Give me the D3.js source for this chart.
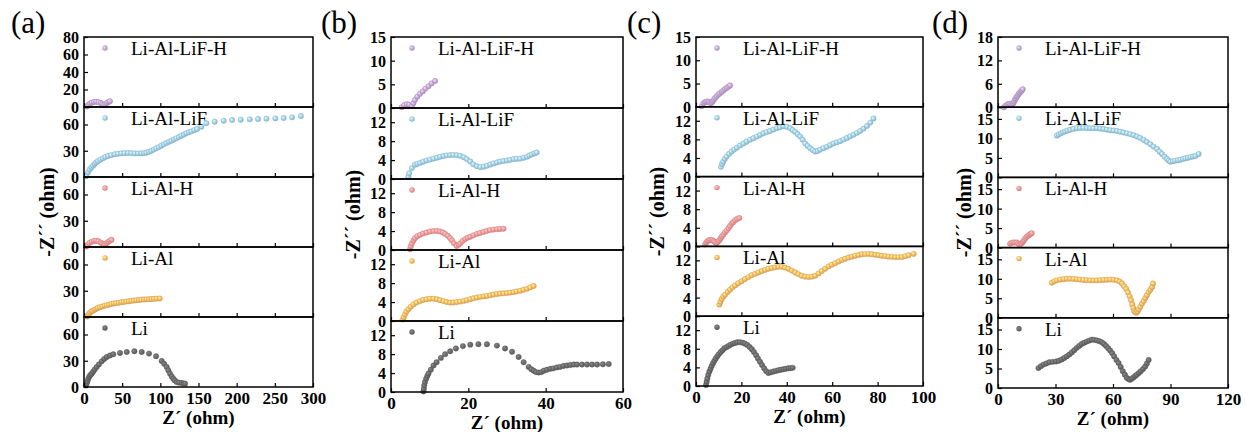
<!DOCTYPE html>
<html>
<head>
<meta charset="utf-8">
<script src="https://cdn.jsdelivr.net/npm/d3@7"></script>
<style>
  body { margin: 0; background: #fff; }
  svg { display: block; }
  svg text { font-family: "Liberation Serif", "Times New Roman", "DejaVu Serif", serif; }
</style>
</head>
<body>
<svg id="chart"></svg>
<script>
// series and panel settings
const names = ["Li-Al-LiF-H", "Li-Al-LiF", "Li-Al-H", "Li-Al", "Li"]
const colors = ["#c6a8d8", "#a4d2e8", "#f39a9a", "#f7bc68", "#6a6a6a"]
const letters = ["(a)", "(b)", "(c)", "(d)"]
const xDomains = [[0, 300], [0, 60], [0, 100], [0, 120]]
const xTicks = [[0, 50, 100, 150, 200, 250, 300], [0, 20, 40, 60], [0, 20, 40, 60, 80, 100], [0, 30, 60, 90, 120]]
const yMax = [80, 15, 15, 18]
const yTicksTop = [[0, 20, 40, 60, 80], [0, 5, 10, 15], [0, 5, 10, 15], [0, 6, 12, 18]]
const yTicksRest = [[0, 30, 60], [0, 4, 8, 12], [0, 4, 8, 12], [0, 5, 10, 15]]

// (a) Z' , -Z'' pairs
const a_LiAlLiFH = [[4,0.5],[6,2.5],[8,4],[10,5],[13,5.8],[16,6],[19,5.6],[22,4.5],[24,3],[26,2.2],[28,3],[30,4.5],[32,5.8],[34,6.5]]
const a_LiAlLiF = [[3,1],[5.2,5.3],[7.5,8.5],[9.6,11],[12,13],[14,14.9],[16,16.5],[18.3,18],[21.5,19.8],[24.9,21.3],[28,22.8],[31.5,24],[35.5,25],[40.2,26],[44.5,26.6],[48.9,27],[53,27.2],[57.7,27.4],[62,27.3],[66.4,27],[70.8,27],[75.1,27],[78.5,27.3],[81.7,27.8],[85,28.8],[88.2,30],[91.5,31.3],[94.8,32.8],[98,34.2],[101.3,35.8],[104.6,37.3],[107.9,38.9],[111.2,40.2],[114.5,41.5],[117.8,42.8],[121,44.2],[124.3,45.7],[127.6,47.2],[130.9,48.6],[134.1,50],[137.4,51.1],[140.7,52.2],[144.4,53.5],[148.1,54.9],[153.8,57.5],[160.3,61.4],[171.2,63.2],[183,64.3],[194,65.1],[205.3,65.5],[217.1,65.9],[228,66.3],[239,66.7],[250.7,67],[261.7,67.4],[272.6,68.2],[284,69.7]]
const a_LiAlH = [[3,0.5],[5,2.5],[7,4.5],[10,6],[13,7],[16,7.2],[19,6.5],[22,5],[24,3.8],[26,3],[28,3.3],[30,4.5],[32,6],[34,7.3],[36,8.3]]
const a_LiAl = [[4.3,0.5],[5.2,1.5],[6.5,3.5],[8,5.2],[9.8,6.5],[11.8,7.2],[14,8.3],[16,9.3],[18.3,10.3],[21,11.2],[24,12],[27.1,12.9],[30,13.5],[33,14.2],[35.8,14.9],[39,15.4],[42,15.9],[45.5,16.3],[48.9,16.8],[52,17.2],[55.5,17.6],[58.8,18],[62,18.6],[65.5,18.8],[68.8,19.1],[72,19.4],[75.1,19.8],[78.5,20],[81.8,20.2],[85,20.4],[88.2,20.6],[91.5,20.8],[95,21],[99.2,21.2]]
const a_Li = [[2.6,1.9],[3.5,4],[4.5,6.5],[5.7,9.5],[7,12],[8.5,13.8],[10.1,15.2],[12,17.5],[14,20],[16.6,22.8],[19.5,25.8],[23.2,29.3],[26.5,32],[29.8,34.3],[34,36],[38.4,37.4],[47.2,38.9],[56,40],[66,40.9],[75.6,40],[85.2,38.2],[94.4,35.1],[101.8,29.7],[105,26.5],[108.4,22.8],[110.5,19],[112.7,15.2],[115,12],[117,9.5],[119,7.5],[121.5,5.6],[124.5,5],[128,4.5],[130.5,4.2],[132.4,3.8]]

// (b)
const b_LiAlLiFH = [[2.8,0.15],[3.4,0.6],[4.1,0.8],[4.7,0.7],[5.4,0.4],[5.8,1.0],[6.2,1.7],[6.8,2.4],[7.5,3.0],[8.2,3.5],[8.9,4.1],[9.7,4.6],[10.5,5.2],[11.4,5.7]]
const b_LiAlLiF = [[4.5,0.5],[4.7,1.2],[5.4,2.3],[6.2,3.0],[6.8,3.2],[7.5,3.4],[8.3,3.65],[9.2,3.9],[10.1,4.1],[11,4.3],[11.9,4.5],[12.7,4.7],[13.6,4.85],[14.4,5.0],[15.3,5.05],[16.1,5.1],[17,5.05],[17.9,4.9],[18.8,4.6],[19.6,4.2],[20.5,3.7],[21.3,3.1],[22.2,2.7],[23.1,2.5],[24,2.6],[24.8,2.8],[25.7,3.05],[26.5,3.3],[27.4,3.5],[28.2,3.7],[29.1,3.8],[30,3.9],[30.8,4.05],[31.7,4.2],[32.5,4.25],[33.4,4.3],[34.3,4.5],[35.2,4.7],[35.8,4.95],[36.4,5.2],[37.1,5.4],[37.7,5.6]]
const b_LiAlH = [[4.9,0.15],[5.1,0.8],[5.4,1.4],[5.8,2.0],[6.2,2.5],[6.8,2.9],[7.5,3.2],[8.3,3.5],[9.2,3.7],[10.1,3.9],[11,4.0],[11.9,4.0],[12.7,3.9],[13.4,3.7],[14,3.4],[14.7,3.0],[15.3,2.5],[15.8,2.0],[16.3,1.4],[17,0.85],[17.5,1.1],[17.9,1.4],[18.5,1.9],[19.2,2.3],[19.8,2.6],[20.5,2.8],[21.3,3.1],[22.2,3.4],[23,3.6],[23.9,3.8],[24.7,4.0],[25.6,4.2],[26.5,4.3],[27.4,4.4],[28.2,4.45],[29.1,4.5]]
const b_LiAl = [[3,0.3],[3.3,0.8],[3.6,1.4],[4,2],[4.5,2.5],[5.1,3],[5.8,3.5],[6.6,3.9],[7.5,4.2],[8.3,4.45],[9.2,4.6],[10.1,4.7],[11,4.7],[11.9,4.6],[12.7,4.4],[13.6,4.2],[14.4,4.0],[15.3,3.9],[16.1,3.9],[17,4.0],[17.9,4.1],[18.8,4.25],[19.6,4.4],[20.5,4.6],[21.3,4.8],[22.2,4.95],[23.1,5.1],[24,5.2],[24.8,5.3],[25.7,5.45],[26.5,5.6],[27.4,5.7],[28.2,5.8],[29.1,5.85],[30,5.9],[30.8,6.0],[31.7,6.1],[32.5,6.25],[33.4,6.4],[34.3,6.6],[35.2,6.8],[36,7.1],[36.9,7.4]]
const b_Li = [[8.4,0.1],[8.5,0.7],[8.6,1.4],[8.8,2.1],[9.1,2.8],[9.4,3.4],[9.7,3.9],[10.3,4.7],[11,5.6],[11.8,6.3],[12.9,7.2],[14,8.0],[15.3,8.6],[16.8,9.2],[18.6,9.7],[20.5,10.0],[22.6,10.1],[24.8,10.1],[27.4,9.8],[29.5,9.2],[31.3,8.5],[33,7.4],[34.3,6.3],[35.6,5.3],[36.3,4.8],[36.9,4.5],[37.5,4.2],[38.2,4.1],[38.9,4.2],[39.5,4.5],[40.3,4.7],[41.2,4.9],[42,5.0],[42.9,5.2],[43.7,5.3],[44.6,5.5],[45.5,5.6],[46.4,5.7],[47.3,5.8],[48.1,5.8],[49.4,5.8],[50.7,5.8],[52,5.8],[53.3,5.8],[54.8,5.85],[56.3,5.9]]

// (c)
const c_LiAlLiFH = [[2.5,0.1],[3.2,0.7],[3.8,0.95],[4.4,1.1],[5,1.15],[5.6,1.1],[6.1,0.9],[6.5,0.7],[7,0.9],[7.4,1.2],[7.9,1.55],[8.4,1.9],[9.1,2.25],[9.8,2.6],[10.5,2.9],[11.3,3.2],[12,3.5],[12.8,3.8],[13.5,4.05],[14.3,4.3],[15,4.6]]
const c_LiAlLiF = [[11,2.1],[11.5,2.7],[12,3.2],[12.7,3.8],[13.5,4.3],[14.6,4.9],[15.7,5.4],[16.8,5.8],[18,6.2],[19.4,6.7],[20.9,7.1],[22.3,7.5],[23.8,7.9],[25.3,8.25],[26.8,8.6],[28.2,8.95],[29.7,9.3],[31.1,9.55],[32.6,9.8],[34.1,10.1],[35.6,10.4],[37,10.6],[38.5,10.8],[40,10.7],[41.5,10.4],[42.6,10],[43.7,9.6],[44.8,9.1],[45.9,8.6],[47,7.9],[48.1,7.1],[49.2,6.6],[50.3,6.1],[51.4,5.7],[52.5,5.4],[53.6,5.5],[54.7,5.8],[56.1,6.1],[57.6,6.4],[59.1,6.8],[60.6,7.1],[62,7.35],[63.5,7.6],[65,7.95],[66.5,8.3],[67.9,8.65],[69.4,9.0],[70.9,9.4],[72.3,9.8],[73.8,10.3],[75.3,10.9],[76.8,11.6],[78.2,12.5]]
const c_LiAlH = [[4,0.4],[4.5,0.8],[5,1.1],[5.6,1.3],[6.2,1.4],[6.8,1.4],[7.4,1.3],[7.9,1.1],[8.4,0.9],[9.1,0.7],[9.7,1.0],[10.3,1.3],[10.8,1.7],[11.3,2.1],[12,2.5],[12.8,3.0],[13.5,3.4],[14.3,3.9],[15,4.4],[15.7,4.9],[16.4,5.2],[17.2,5.6],[18.1,5.9],[19.1,6.1]]
const c_LiAl = [[10.3,2.5],[10.8,3.1],[11.3,3.7],[12,4.2],[12.8,4.6],[13.9,5.2],[15,5.7],[16.1,6.2],[17.2,6.6],[18.6,7.1],[20.1,7.5],[21.6,8],[23.1,8.4],[24.5,8.8],[26,9.1],[27.5,9.4],[29,9.7],[30.4,9.95],[31.9,10.2],[33.4,10.35],[34.8,10.5],[36.3,10.6],[37.8,10.6],[39.2,10.45],[40.7,10.2],[42.2,9.8],[43.7,9.4],[45.1,9.05],[46.6,8.7],[48.1,8.5],[49.6,8.4],[51,8.5],[52.5,8.7],[54,9.2],[55.4,9.7],[56.9,10.2],[58.4,10.7],[59.8,11.05],[61.3,11.4],[62.8,11.75],[64.3,12.1],[65.7,12.35],[67.2,12.6],[68.7,12.8],[70.1,13],[71.6,13.15],[73.1,13.3],[74.5,13.35],[76,13.4],[77.5,13.3],[79,13.2],[80.4,13.1],[81.9,13],[83.4,12.9],[84.8,12.8],[86.3,12.75],[87.8,12.7],[89.2,12.7],[90.7,12.7],[92.2,12.9],[93.7,13.1],[95.9,13.4]]
const c_Li = [[4.4,0.2],[4.7,0.9],[5,1.6],[5.4,2.4],[5.9,3.1],[6.4,3.7],[6.9,4.3],[7.5,4.9],[8.1,5.4],[8.7,5.9],[9.4,6.4],[10.1,6.85],[10.9,7.3],[11.7,7.7],[12.5,8.1],[13.4,8.35],[14.3,8.6],[15.2,8.85],[16.2,9.1],[17.2,9.25],[18.2,9.4],[19.4,9.4],[20.6,9.3],[21.6,9.1],[22.6,8.8],[23.6,8.4],[24.6,7.9],[25.5,7.3],[26.5,6.6],[27.3,5.9],[28.2,5.2],[29.1,4.5],[30,3.8],[30.9,3.2],[31.9,2.8],[33,2.95],[34.1,3.1],[35.2,3.25],[36.3,3.4],[37.4,3.5],[38.5,3.6],[39.6,3.7],[40.7,3.8],[41.7,3.85],[42.6,3.9]]

// (d)
const d_LiAlLiFH = [[3.1,0],[3.8,0.3],[4.5,0.6],[5.2,0.8],[5.9,0.9],[6.5,0.8],[7.1,0.6],[7.5,0.7],[8,1.0],[8.4,1.4],[8.9,1.9],[9.3,2.3],[9.8,2.7],[10.3,3.0],[10.8,3.4],[11.3,3.7],[11.9,4.0],[12.4,4.3],[12.9,4.6]]
const d_LiAlLiF = [[30.7,10.7],[31.7,11],[32.8,11.3],[33.9,11.55],[35,11.8],[36.3,12],[37.6,12.2],[39.3,12.4],[41.1,12.6],[42.8,12.65],[44.6,12.7],[46.3,12.65],[48.1,12.6],[49.8,12.6],[51.6,12.6],[53.3,12.5],[55.1,12.4],[56.8,12.25],[58.6,12.1],[60.3,12],[62.1,11.9],[63.8,11.7],[65.5,11.5],[67.3,11.3],[69,11.1],[70.8,10.8],[72.5,10.5],[74.2,10.1],[76,9.6],[77.7,9.1],[79.5,8.5],[81.2,7.9],[83,7.3],[84.3,6.6],[85.6,6],[86.9,5.3],[88.2,4.7],[89.1,4.3],[89.9,4],[91.2,4.15],[92.5,4.3],[93.9,4.4],[95.2,4.5],[96.5,4.7],[97.8,4.9],[99.1,5.05],[100.4,5.2],[101.7,5.35],[103,5.5],[104.7,6]]
const d_LiAlH = [[6.3,1.0],[7.1,1.2],[8,1.3],[8.9,1.3],[9.8,1.3],[10.5,1.0],[11.1,0.8],[11.8,0.95],[12.4,1.1],[13,1.5],[13.6,1.9],[14.3,2.4],[15,2.8],[15.7,3.05],[16.4,3.3],[17,3.5],[17.6,3.7]]
const d_LiAl = [[28.1,9],[29.4,9.35],[30.7,9.6],[32.5,9.8],[34.2,9.9],[35.9,10],[37.6,10],[39.4,9.95],[41.1,9.9],[42.8,9.8],[44.6,9.7],[46.3,9.65],[48.1,9.6],[49.8,9.6],[51.6,9.6],[53.3,9.65],[55.1,9.7],[56.8,9.75],[58.6,9.8],[60.3,9.75],[62.1,9.6],[63.4,9.3],[64.7,8.8],[65.8,8.1],[66.9,7.4],[67.8,6.5],[68.7,5.5],[69.4,4.5],[70.1,3.4],[70.6,2.5],[71.1,1.7],[71.6,1.4],[72.2,1.3],[72.8,1.6],[73.4,2.1],[74.2,2.8],[75.1,3.6],[76,4.3],[76.9,5.1],[77.7,5.8],[78.6,6.6],[79.5,7.2],[80.4,7.9],[80.9,8.8]]
const d_Li = [[21.1,5.1],[22.4,5.6],[23.7,6.0],[25.2,6.3],[26.8,6.6],[28.5,6.7],[30.3,6.8],[31.8,7.0],[33.3,7.3],[34.6,7.7],[35.9,8.1],[37.2,8.6],[38.5,9.1],[39.8,9.7],[41.1,10.3],[42.4,10.8],[43.7,11.3],[45,11.6],[46.3,11.9],[47.6,12.15],[48.9,12.4],[50.2,12.35],[51.6,12.2],[52.9,12],[54.2,11.7],[55.3,11.3],[56.4,10.8],[57.5,10.2],[58.5,9.6],[59.6,8.9],[60.6,8.1],[61.8,7.2],[62.9,6.4],[64,5.4],[65.1,4.3],[66.2,3.4],[67.2,2.6],[68,2.3],[68.9,2.1],[69.8,2.4],[70.7,2.7],[71.6,3.1],[72.4,3.4],[73.5,3.85],[74.5,4.3],[75.7,4.9],[76.8,5.5],[77.7,6.3],[78.6,7.2]]

const panelData = [
  [a_LiAlLiFH, a_LiAlLiF, a_LiAlH, a_LiAl, a_Li],
  [b_LiAlLiFH, b_LiAlLiF, b_LiAlH, b_LiAl, b_Li],
  [c_LiAlLiFH, c_LiAlLiF, c_LiAlH, c_LiAl, c_Li],
  [d_LiAlLiFH, d_LiAlLiF, d_LiAlH, d_LiAl, d_Li]
]

// layout (pixels)
const width = 1246, height = 432
const boxes = [
  { left: 84, right: 313, top: 37, bottom: 387, letterX: 11, titleDx: 37 },
  { left: 391, right: 623, top: 37, bottom: 392, letterX: 321, titleDx: 38 },
  { left: 696, right: 923, top: 37, bottom: 386, letterX: 627, titleDx: 39 },
  { left: 998, right: 1228, top: 37, bottom: 388, letterX: 932, titleDx: 34 }
]

const svg = d3.select("#chart").attr("width", width).attr("height", height)
const defs = svg.append("defs")

// shaded ball markers
colors.forEach((c, i) => {
  const g = defs.append("radialGradient").attr("id", "ball" + i)
    .attr("cx", "45%").attr("cy", "45%").attr("r", "60%")
    .attr("fx", "35%").attr("fy", "35%")
  g.append("stop").attr("offset", "0%").attr("stop-color", d3.color(c).brighter(0.8) + "")
  g.append("stop").attr("offset", "55%").attr("stop-color", c)
  g.append("stop").attr("offset", "100%").attr("stop-color", d3.color(c).darker(0.6) + "")
})

function styleAxis(sel) {
  sel.select(".domain").remove()
  sel.attr("font-family", null).attr("font-size", null)
  sel.selectAll("line").attr("stroke", "#000").attr("stroke-width", 1.2)
  sel.selectAll("text")
    .attr("fill", "#000")
    .style("font-size", "16px")
    .style("font-weight", "bold")
}

boxes.forEach((b, p) => {
  const panel = svg.append("g")
  const h = (b.bottom - b.top) / names.length

  const x = d3.scaleLinear().domain(xDomains[p]).range([b.left, b.right])

  names.forEach((name, k) => {
    const y0 = b.top + k * h
    const y1 = y0 + h
    const y = d3.scaleLinear().domain([0, yMax[p]]).range([y1, y0])
    const g = panel.append("g")

    // points
    g.selectAll("circle.pt")
      .data(panelData[p][k])
      .join("circle")
      .attr("class", "pt")
      .attr("cx", d => x(d[0]))
      .attr("cy", d => y(d[1]))
      .attr("r", 2.7)
      .attr("fill", `url(#ball${k})`)
      .attr("stroke", d3.color(colors[k]).darker(0.4) + "")
      .attr("stroke-width", 0.4)

    // y axis, ticks inward
    const ya = g.append("g")
      .attr("transform", `translate(${b.left},0)`)
      .call(d3.axisLeft(y).tickValues(k === 0 ? yTicksTop[p] : yTicksRest[p]).tickSize(-4).tickPadding(5))
    styleAxis(ya)
    ya.selectAll("text").attr("dy", "0.34em")

    // x axis, ticks inward
    const xa = g.append("g")
      .attr("transform", `translate(0,${y1})`)
      .call(d3.axisBottom(x).tickValues(xTicks[p]).tickSize(-4).tickPadding(5)
        .tickFormat(k === names.length - 1 ? d3.format("d") : () => ""))
    styleAxis(xa)
    xa.selectAll("text").style("font-size", "17px")

    // frame
    g.append("rect")
      .attr("x", b.left).attr("y", y0)
      .attr("width", b.right - b.left).attr("height", h)
      .attr("fill", "none").attr("stroke", "#000").attr("stroke-width", 1.5)

    // legend
    g.append("circle")
      .attr("cx", b.left + 21).attr("cy", y0 + 11).attr("r", 2.7)
      .attr("fill", `url(#ball${k})`)
    g.append("text")
      .attr("x", b.left + 47).attr("y", y0 + 18)
      .style("font-size", "19px")
      .text(name)
  })

  // panel letter
  panel.append("text")
    .attr("x", b.letterX).attr("y", 33)
    .style("font-size", "31px")
    .text(letters[p])

  // axis titles
  panel.append("text")
    .attr("x", (b.left + b.right) / 2).attr("y", b.bottom + 37)
    .attr("text-anchor", "middle")
    .style("font-size", "19px").style("font-weight", "bold")
    .text("Z\u00b4 (ohm)")

  panel.append("text")
    .attr("transform", `translate(${b.left - b.titleDx},${(b.top + b.bottom) / 2}) rotate(-90)`)
    .attr("text-anchor", "middle")
    .attr("dominant-baseline", "central")
    .style("font-size", "20px").style("font-weight", "bold")
    .text("-Z\u00b4\u00b4 (ohm)")
})
</script>
</body>
</html>
